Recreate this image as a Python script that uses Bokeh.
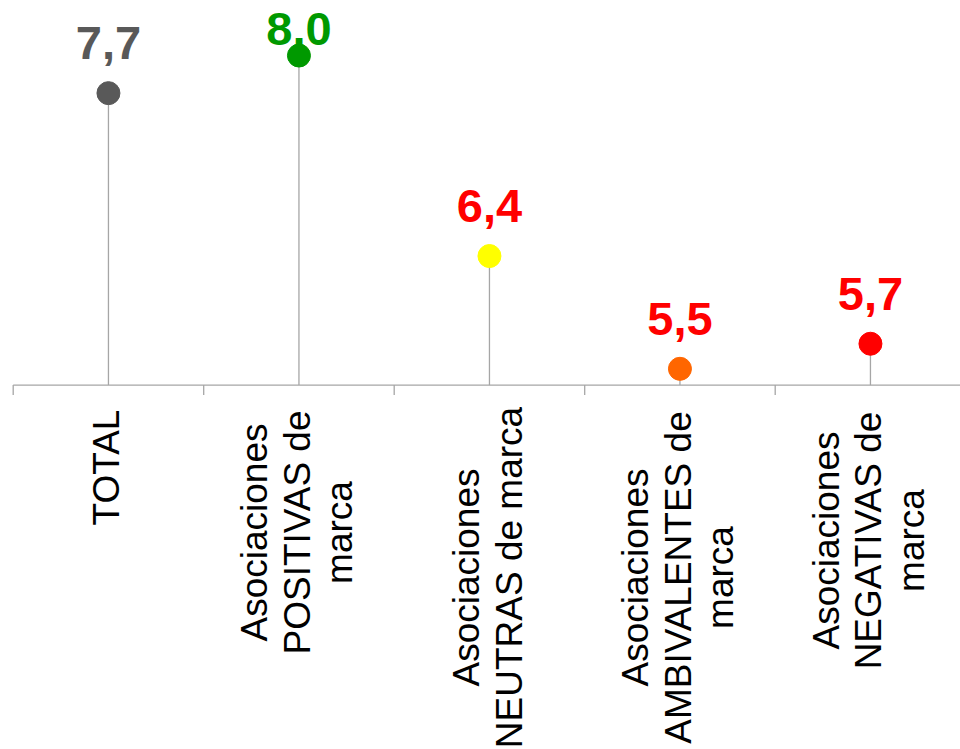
import math

from bokeh.core.properties import value
from bokeh.embed import file_html
from bokeh.models import ColumnDataSource, Range1d
from bokeh.plotting import figure
from bokeh.resources import INLINE

# --- data -------------------------------------------------------------
categories = [
    "TOTAL",
    "Asociaciones POSITIVAS de marca",
    "Asociaciones NEUTRAS de marca",
    "Asociaciones AMBIVALENTES de marca",
    "Asociaciones NEGATIVAS de marca",
]
# category labels as they wrap on the rotated axis
category_lines = [
    ["TOTAL"],
    ["Asociaciones", "POSITIVAS de", "marca"],
    ["Asociaciones", "NEUTRAS de marca"],
    ["Asociaciones", "AMBIVALENTES de", "marca"],
    ["Asociaciones", "NEGATIVAS de", "marca"],
]
scores = [7.7, 8.0, 6.4, 5.5, 5.7]
axis_min = 5.37

# --- styling ----------------------------------------------------------
marker_colors = ["#595959", "#009900", "#FFFF00", "#FF6600", "#FF0000"]
label_colors = ["#595959", "#009900", "#FF0000", "#FF0000", "#FF0000"]
stem_color = "#A6A6A6"

W, H = 960, 749
px_per_cat = 190.5          # horizontal pixels per category slot
left_pad = 12.7             # pixels left of the first slot
px_per_unit = 125.3         # vertical pixels per score unit
y_top = 5.5 + 368.3 / px_per_unit

x0 = -0.5 - left_pad / px_per_cat
x_range = Range1d(x0, x0 + W / px_per_cat)
y_range = Range1d(y_top - H / px_per_unit, y_top)


def px_to_y(py):
    """Screen row (from top) to score units."""
    return y_top - py / px_per_unit


p = figure(
    width=W, height=H,
    x_range=x_range, y_range=y_range,
    x_axis_type=None, y_axis_type=None,
    output_backend="svg", toolbar_location=None,
    min_border=0,
)
p.outline_line_color = None
p.grid.visible = False
p.background_fill_color = "white"
p.border_fill_color = "white"

n = len(categories)
xs = list(range(n))

# category axis line and ticks between slots
p.segment(x0=[-0.5], y0=[axis_min], x1=[n - 0.5 + 1], y1=[axis_min],
          line_color=stem_color, line_width=1.3)
tick_x = [i - 0.5 for i in range(n + 1)]
tick_len = 10 / px_per_unit
p.segment(x0=tick_x, y0=[axis_min] * len(tick_x), x1=tick_x,
          y1=[axis_min - tick_len] * len(tick_x),
          line_color=stem_color, line_width=1.3)

# stems and dots
p.segment(x0=xs, y0=[axis_min] * n, x1=xs, y1=scores,
          line_color=stem_color, line_width=1.3)

dots = ColumnDataSource(dict(x=xs, y=scores, color=marker_colors))
p.scatter("x", "y", source=dots, size=23, fill_color="color",
          line_color="color", marker="circle")

# value labels above the dots, kept inside the plot area at the top
label_gap = 50 / px_per_unit
label_cap = px_to_y(28)
val_src = ColumnDataSource(dict(
    x=xs,
    y=[min(v + label_gap, label_cap) for v in scores],
    text=[f"{v:.1f}".replace(".", ",") for v in scores],
    color=label_colors,
))
p.text("x", "y", text="text", source=val_src, text_color="color",
       text_font=value("Liberation Sans"), text_font_style="bold",
       text_font_size="47px", text_align="center",
       text_baseline="alphabetic")

# rotated category labels, lines centred on each slot
line_step = 42.5 / px_per_cat
block_center_px = [467, 532, 577, 577, 540]
lx, ly, lt = [], [], []
for i, lines in enumerate(category_lines):
    k = len(lines)
    for j, line in enumerate(lines):
        lx.append(i - 1.5 / px_per_cat + (j - (k - 1) / 2) * line_step)
        ly.append(px_to_y(block_center_px[i]))
        lt.append(line)
cat_src = ColumnDataSource(dict(x=lx, y=ly, text=lt))
p.text("x", "y", text="text", source=cat_src, angle=math.pi / 2,
       text_color="#000000", text_font=value("Liberation Sans"),
       text_font_size="37px", text_align="center", text_baseline="middle")

open("out.html", "w").write(file_html(p, INLINE))
